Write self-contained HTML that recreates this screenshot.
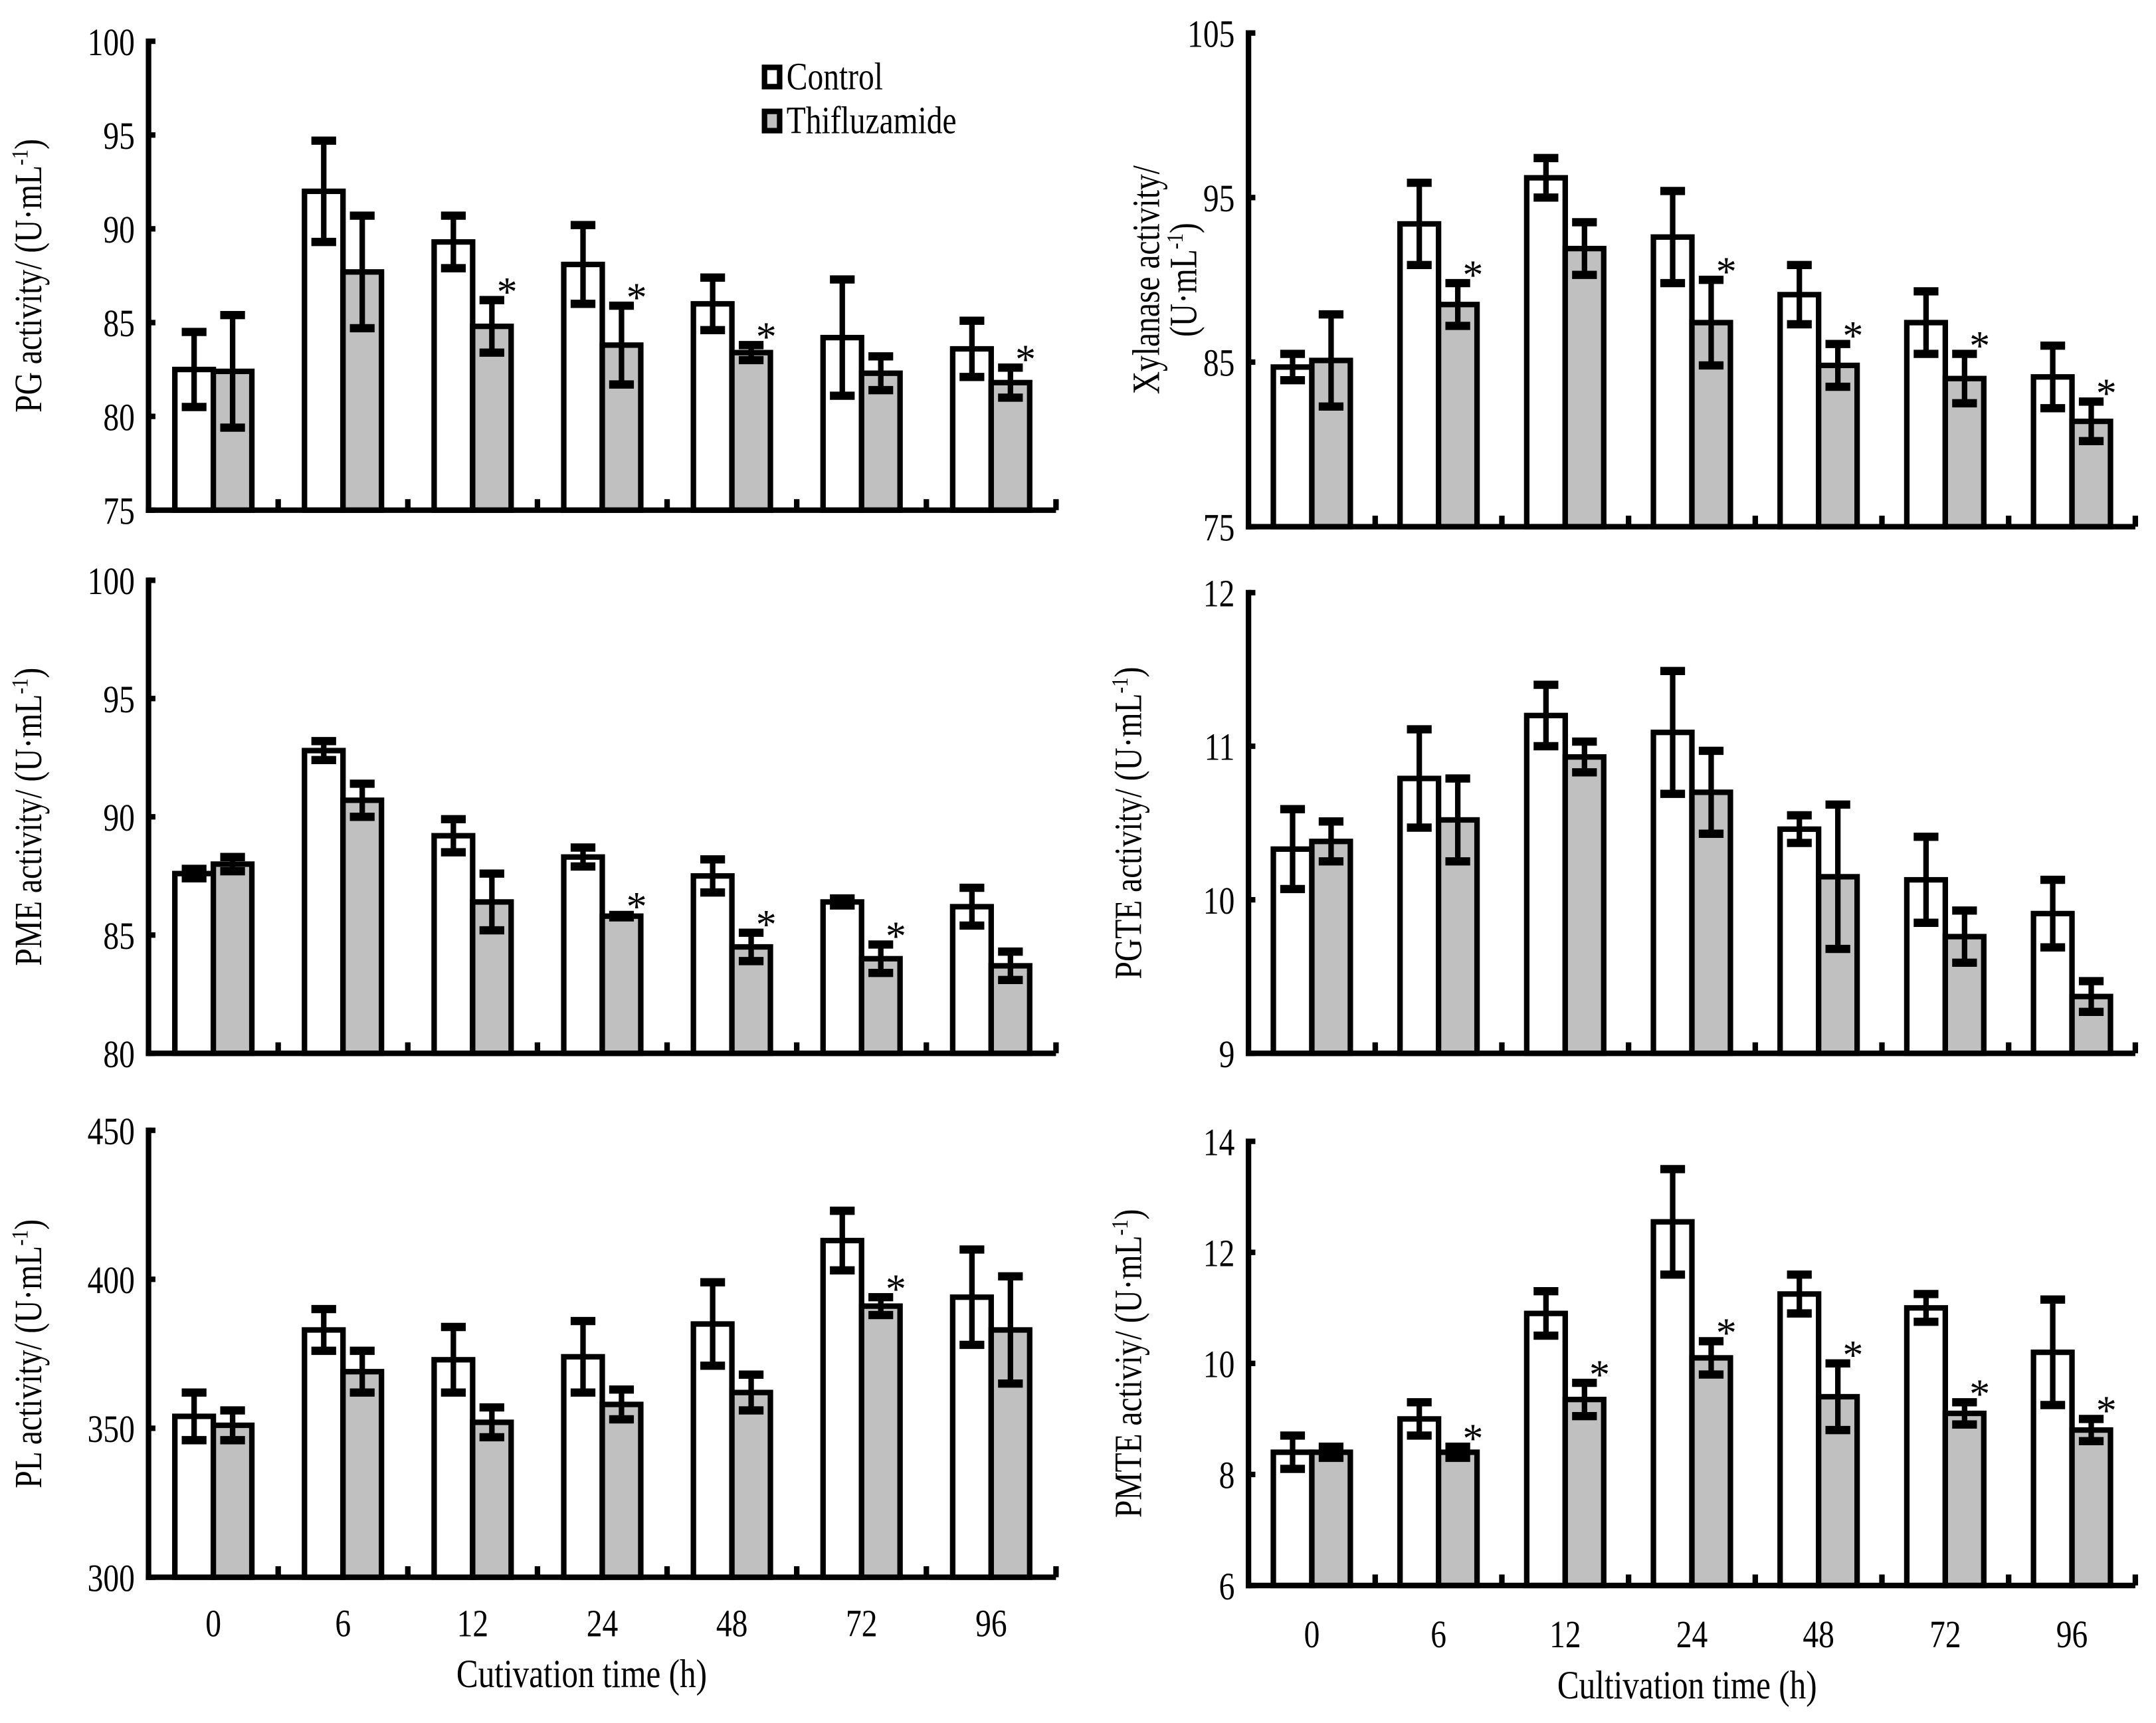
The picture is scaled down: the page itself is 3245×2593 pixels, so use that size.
<!DOCTYPE html>
<html><head><meta charset="utf-8"><style>
html,body{margin:0;padding:0;background:#fff;}
svg{display:block;}
text{font-family:"Liberation Serif",serif;fill:#000;}
</style></head><body>
<svg id="chart" width="3245" height="2593" viewBox="0 0 1568 1253" xmlns="http://www.w3.org/2000/svg"></svg>
<script>
const categories = ["0","6","12","24","48","72","96"];
const pgControl = [82.5,92,89.3,88.1,86,84.2,83.6];
const pgControlErr = [2,2.7,1.4,2.1,1.4,3.1,1.5];
const pgThif = [82.4,87.7,84.8,83.8,83.4,82.3,81.8];
const pgThifErr = [3,3,1.4,2.1,0.4,0.9,0.8];
const pgStars = [0,0,1,1,1,0,1];
const xylControl = [84.7,93.4,96.2,92.6,89.1,87.4,84.1];
const xylControlErr = [0.8,2.5,1.2,2.8,1.8,1.9,1.9];
const xylThif = [85.1,88.5,91.9,87.4,84.8,84,81.4];
const xylThifErr = [2.8,1.3,1.6,2.6,1.3,1.5,1.2];
const xylStars = [0,1,0,1,1,1,1];
const pmeControl = [87.6,92.8,89.2,88.3,87.5,86.4,86.2];
const pmeControlErr = [0.2,0.4,0.7,0.4,0.7,0.15,0.8];
const pmeThif = [88,90.7,86.4,85.8,84.5,84,83.7];
const pmeThifErr = [0.3,0.7,1.2,0.05,0.6,0.6,0.6];
const pmeStars = [0,0,0,1,1,1,0];
const pgteControl = [10.33,10.79,11.2,11.09,10.46,10.13,9.91];
const pgteControlErr = [0.26,0.32,0.2,0.4,0.09,0.28,0.22];
const pgteThif = [10.38,10.52,10.93,10.7,10.15,9.76,9.37];
const pgteThifErr = [0.13,0.27,0.1,0.27,0.47,0.17,0.1];
const pgteStars = [0,0,0,0,0,0,0];
const plControl = [354,383,373,374,385,413,394];
const plControlErr = [8,7,11,12,14,10,16];
const plThif = [351,369,352,358,362,391,383];
const plThifErr = [5,7,5,5,6,3,18];
const plStars = [0,0,0,0,0,1,0];
const pmteControl = [8.4,9,10.9,12.55,11.25,11,10.2];
const pmteControlErr = [0.3,0.3,0.4,0.95,0.35,0.25,0.95];
const pmteThif = [8.4,8.4,9.35,10.1,9.4,9.1,8.8];
const pmteThifErr = [0.1,0.1,0.3,0.3,0.6,0.2,0.2];
const pmteStars = [0,1,1,1,1,1,1];
const pgTicks = [75,80,85,90,95,100];
const xylTicks = [75,85,95,105];
const pmeTicks = [80,85,90,95,100];
const pgteTicks = [9,10,11,12];
const plTicks = [300,350,400,450];
const pmteTicks = [6,8,10,12,14];

const svg = document.getElementById('chart');
const NS = 'http://www.w3.org/2000/svg';
function mk(tag, attrs, parent){const e=document.createElementNS(NS,tag);for(const k in attrs)e.setAttribute(k,attrs[k]);(parent||svg).appendChild(e);return e;}
function ctext(x,y,size,anchor,parent,rot){
  const tr = `translate(${x} ${y})` + (rot?' rotate(-90)':'') + ' scale(0.82 1)';
  return mk('text',{x:0,y:0,'font-size':size,'text-anchor':anchor,transform:tr},parent);
}

function panel(name, cfg){
  const g = mk('g',{});
  
  
  const {x0,x1,yTop,yBot,ticks,ctrl,ctrlErr,thif,thifErr,stars,title,title2,tx,xlabels,xlabelY} = cfg;
  const vmin=ticks[0], vmax=ticks[ticks.length-1];
  const Y = v => yBot - (v-vmin)/(vmax-vmin)*(yBot-yTop);
  const gw = (x1-x0)/categories.length;
  const X = i => x0 + gw*(i+0.5);
  const bw = 28;
  for(let i=0;i<categories.length;i++){
    const c = X(i);
    [[ctrl,ctrlErr,'#fff',-1,'control'],[thif,thifErr,'#c0c0c0',0,'thifluzamide']].forEach(([vals,errs,fill,off,s])=>{
      const bx = c + off*bw, top = Y(vals[i]);
      const r = mk('rect',{x:bx,y:top,width:bw,height:yBot-top,fill:fill,stroke:'#000','stroke-width':4},g);
      
      
      const ex = bx+bw/2, e1=Y(vals[i]+errs[i]), e2=Y(vals[i]-errs[i]);
      const eg = mk('g',{stroke:'#000','stroke-width':4},g);
      
      
      mk('line',{x1:ex,x2:ex,y1:e1,y2:e2},eg);
      mk('line',{x1:ex-9,x2:ex+9,y1:e1,y2:e1,'stroke-width':6},eg);
      mk('line',{x1:ex-9,x2:ex+9,y1:e2,y2:e2,'stroke-width':6},eg);
    });
    if(stars[i]){
      const t = mk('text',{x:c+bw/2+11,y:Y(thif[i]+thifErr[i])+4,'font-size':30,'text-anchor':'middle'},g);
      t.textContent='*';
      
      
    }
  }
  const ax = mk('g',{stroke:'#000','stroke-width':4},g);
  
  
  mk('line',{x1:x0,x2:x0,y1:yTop-2,y2:yBot+2},ax);
  mk('line',{x1:x0-2,x2:x1,y1:yBot,y2:yBot},ax);
  ticks.forEach(v=>{
    mk('line',{x1:x0,x2:x0+5,y1:Y(v),y2:Y(v)},ax);
    const t = ctext(x0-10,Y(v)+10,28,'end',g);
    t.textContent=v;
    
    
  });
  for(let i=1;i<=categories.length;i++){
    const xx = x0+gw*i;
    mk('line',{x1:xx,x2:xx,y1:yBot,y2:yBot-8},ax);
  }
  if(xlabels){
    categories.forEach((c,i)=>{
      const t = ctext(X(i),xlabelY,28,'middle',g);
      t.textContent=c;
      
      
    });
  }
  const cy=(yTop+yBot)/2;
  const tt = ctext(tx,cy,28,'middle',g,true);
  
  
  if(title2){
    tt.textContent=title;
    const t2 = ctext(tx+27,cy,28,'middle',g,true);
    t2.innerHTML='(U·mL<tspan dy="-10" font-size="17">-1</tspan><tspan dy="10">)</tspan>';
    
    
  } else {
    tt.innerHTML=title+'/ (U·mL<tspan dy="-10" font-size="17">-1</tspan><tspan dy="10">)</tspan>';
  }
}

panel('pg',{x0:108,x1:768,yTop:30,yBot:371,ticks:pgTicks,ctrl:pgControl,ctrlErr:pgControlErr,thif:pgThif,thifErr:pgThifErr,stars:pgStars,title:'PG activity',tx:30});
panel('xylanase',{x0:908,x1:1553,yTop:24,yBot:383,ticks:xylTicks,ctrl:xylControl,ctrlErr:xylControlErr,thif:xylThif,thifErr:xylThifErr,stars:xylStars,title:'Xylanase activity/',title2:true,tx:843});
panel('pme',{x0:108,x1:768,yTop:422,yBot:766,ticks:pmeTicks,ctrl:pmeControl,ctrlErr:pmeControlErr,thif:pmeThif,thifErr:pmeThifErr,stars:pmeStars,title:'PME activity',tx:30});
panel('pgte',{x0:908,x1:1553,yTop:431,yBot:766,ticks:pgteTicks,ctrl:pgteControl,ctrlErr:pgteControlErr,thif:pgteThif,thifErr:pgteThifErr,stars:pgteStars,title:'PGTE activity',tx:830});
panel('pl',{x0:108,x1:768,yTop:822,yBot:1147,ticks:plTicks,ctrl:plControl,ctrlErr:plControlErr,thif:plThif,thifErr:plThifErr,stars:plStars,title:'PL activity',tx:30,xlabels:true,xlabelY:1190});
panel('pmte',{x0:908,x1:1553,yTop:830,yBot:1153,ticks:pmteTicks,ctrl:pmteControl,ctrlErr:pmteControlErr,thif:pmteThif,thifErr:pmteThifErr,stars:pmteStars,title:'PMTE activiy',tx:830,xlabels:true,xlabelY:1198});

let t = ctext(423,1227,29,'middle');
t.textContent='Cutivation time (h)';


t = ctext(1227,1235,29,'middle');
t.textContent='Cultivation time (h)';



const lg = mk('g',{});


[['Control','#fff',56],['Thifluzamide','#c0c0c0',88]].forEach(([lab,fill,y])=>{
  const e = mk('g',{},lg);
  
  
  mk('rect',{x:556,y:y-7,width:11,height:14,fill:fill,stroke:'#000','stroke-width':4},e);
  const tx = ctext(572,y+9,28,'start',e);
  tx.textContent=lab;
});
</script>
</body></html>
